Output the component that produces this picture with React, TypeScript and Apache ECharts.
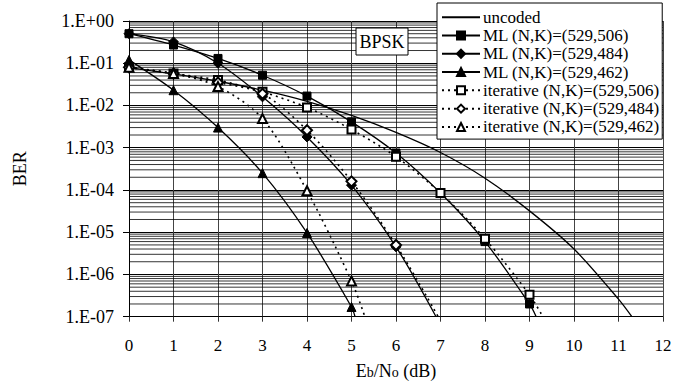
import React, { useEffect, useRef } from "react";
import * as echarts from "echarts";

// Eb/No (dB) positions of the markers: 0, 1, 2, ...
const uncodedBER = [0.079, 0.056, 0.0375, 0.023, 0.0125, 0.0058, 0.0023, 7.7e-4, 1.9e-4, 3.2e-5, 4.0e-6, 2.6e-7];
const uncodedEnd = [11.3, 1e-7];

const ml506 = [0.5, 0.27, 0.13, 0.052, 0.0167, 0.0041, 7.5e-4, 8.5e-5, 6e-6, 2e-7];
const ml506End = [9.15, 1e-7];

const ml484 = [0.5, 0.32, 0.1, 0.016, 0.0018, 1.3e-4, 4.5e-6];
const ml484End = [6.9, 1e-7];

const ml462 = [0.12, 0.023, 0.003, 2.5e-4, 9.6e-6, 1.7e-7];
const ml462End = [5.08, 1e-7];

const it506 = [0.08, 0.057, 0.04, 0.021, 0.009, 0.0027, 6.1e-4, 8.5e-5, 7e-6, 3.3e-7];
const it506End = [9.3, 1e-7];

const it484 = [0.08, 0.057, 0.035, 0.019, 0.0026, 1.6e-4, 5e-6];
const it484End = [6.95, 1e-7];

const it462 = [0.08, 0.057, 0.028, 0.0049, 9.6e-5, 7e-7];
const it462End = [5.3, 1e-7];

const seriesNames = [
  "uncoded",
  "ML (N,K)=(529,506)",
  "ML (N,K)=(529,484)",
  "ML (N,K)=(529,462)",
  "iterative (N,K)=(529,506)",
  "iterative (N,K)=(529,484)",
  "iterative (N,K)=(529,462)",
];

const yTickLabels: Record<string, string> = {
  "0": "1.E+00",
  "-1": "1.E-01",
  "-2": "1.E-02",
  "-3": "1.E-03",
  "-4": "1.E-04",
  "-5": "1.E-05",
  "-6": "1.E-06",
  "-7": "1.E-07",
};

const decades = [-7, -6, -5, -4, -3, -2, -1];
const minorMult = [2, 3, 4, 5, 6, 7, 8, 9];
const xRange = [0, 12];

const FONT = "Liberation Serif, Times New Roman, serif";

function build(vals: number[], end: number[]) {
  const d: any[] = vals.map((v, i) => [i, v]);
  d.push({ value: end, symbol: "none" });
  return d;
}

export default function App() {
  const ref = useRef<HTMLDivElement>(null);
  useEffect(() => {
    if (!ref.current) return;
    const chart = echarts.init(ref.current, null, { renderer: "svg" });
    const gridData: any[] = [];
    decades.forEach((e) =>
      minorMult.forEach((m) => {
        const v = m * Math.pow(10, e);
        gridData.push([xRange[0], v], [xRange[1], v], ["-", "-"]);
      })
    );

    const solid = { color: "#000", width: 1.3, type: "solid" as const };
    const dotted = { color: "#000", width: 1.6, type: [2, 4] as any };
    const common = {
      type: "line" as const,
      smooth: 0.3,
      symbolSize: 8,
      itemStyle: { color: "#000", borderColor: "#000", borderWidth: 1 },
      z: 5,
    };

    const option: any = {
      animation: false,
      backgroundColor: "#fff",
      grid: { left: 129, right: 11, top: 21, bottom: 65.3, containLabel: false, outerBoundsMode: "none" },
      xAxis: {
        type: "value",
        min: xRange[0],
        max: xRange[1],
        interval: 1,
        axisLine: { show: true, lineStyle: { color: "#000", width: 1 } },
        axisTick: { show: true, inside: false, length: 5, lineStyle: { color: "#333" } },
        axisLabel: { color: "#000", fontFamily: FONT, fontSize: 17, margin: 20 },
        splitLine: { show: true, lineStyle: { color: "#444", width: 1 } },
        name: "{n|E}{s|b}{n|/N}{s|o}{n| (dB)}",
        nameLocation: "middle",
        nameGap: 45,
        nameTextStyle: {
          color: "#000",
          fontFamily: FONT,
          verticalAlign: "top",
          lineHeight: 18,
          rich: {
            n: { fontFamily: FONT, fontSize: 18, color: "#000", lineHeight: 18, verticalAlign: "bottom" },
            s: { fontFamily: FONT, fontSize: 14, color: "#000", lineHeight: 16, verticalAlign: "bottom" },
          },
        },
      },
      yAxis: {
        type: "log",
        logBase: 10,
        min: 1e-7,
        max: 1,
        interval: 1,
        axisLine: { show: true, lineStyle: { color: "#000", width: 1 } },
        axisTick: { show: true, inside: false, length: 6, lineStyle: { color: "#000" } },
        axisLabel: {
          color: "#000",
          fontFamily: FONT,
          fontSize: 18,
          margin: 15,
          formatter: (v: number) => yTickLabels[String(Math.round(Math.log10(v)))] ?? "",
        },
        splitLine: { show: true, lineStyle: { color: "#000", width: 1 } },
        name: "BER",
        nameLocation: "middle",
        nameGap: 100,
        nameTextStyle: { color: "#000", fontFamily: FONT, fontSize: 18 },
      },
      legend: {
        orient: "vertical",
        left: 437,
        top: 3,
        padding: [5, 3, 3, 4],
        itemWidth: 38,
        itemHeight: 10,
        itemGap: 0,
        backgroundColor: "#fff",
        borderColor: "#000",
        borderWidth: 1,
        borderRadius: 0,
        selectedMode: false,
        data: seriesNames.map((n, i) =>
          i === 0
            ? { name: n, itemStyle: { color: "rgba(0,0,0,0)", borderColor: "rgba(0,0,0,0)", opacity: 0 } }
            : { name: n }
        ),
        textStyle: { color: "#000", fontFamily: FONT, fontSize: 17, lineHeight: 18.3, padding: [0, 0, 0, -2] },
      },
      graphic: [
        {
          type: "rect",
          z: 100,
          shape: { x: 356, y: 28, width: 52, height: 27 },
          style: { fill: "#fff", stroke: "#000", lineWidth: 1 },
        },
        {
          type: "text",
          z: 101,
          x: 382,
          y: 42,
          style: {
            text: "BPSK",
            fill: "#000",
            font: `18px ${FONT}`,
            textAlign: "center",
            textVerticalAlign: "middle",
          },
        },
      ],
      series: [
        {
          name: "minor-grid",
          type: "line",
          data: gridData,
          connectNulls: false,
          symbol: "none",
          silent: true,
          z: 1,
          lineStyle: { color: "#000", width: 0.8 },
          emphasis: { disabled: true },
          tooltip: { show: false },
        },
        {
          ...common,
          name: seriesNames[0],
          data: build(uncodedBER, uncodedEnd),
          showSymbol: false,
          symbol: "none",
          lineStyle: solid,
        },
        { ...common, name: seriesNames[1], data: build(ml506, ml506End), symbol: "rect", symbolSize: 8, lineStyle: solid },
        { ...common, name: seriesNames[2], data: build(ml484, ml484End), symbol: "diamond", symbolSize: 10, lineStyle: solid },
        { ...common, name: seriesNames[3], data: build(ml462, ml462End), symbol: "triangle", symbolSize: 9, lineStyle: solid },
        {
          ...common,
          name: seriesNames[4],
          data: build(it506, it506End),
          symbol: "emptyRect",
          symbolSize: 8,
          lineStyle: dotted,
        },
        {
          ...common,
          name: seriesNames[5],
          data: build(it484, it484End),
          symbol: "emptyDiamond",
          symbolSize: 10,
          lineStyle: dotted,
        },
        {
          ...common,
          name: seriesNames[6],
          data: build(it462, it462End),
          symbol: "emptyTriangle",
          symbolSize: 9,
          lineStyle: dotted,
        },
      ],
    };
    chart.setOption(option);
    return () => chart.dispose();
  }, []);
  return (
    <div
      ref={ref}
      style={{ position: "fixed", left: 0, top: 0, width: 674, height: 382, background: "#fff" }}
    />
  );
}
